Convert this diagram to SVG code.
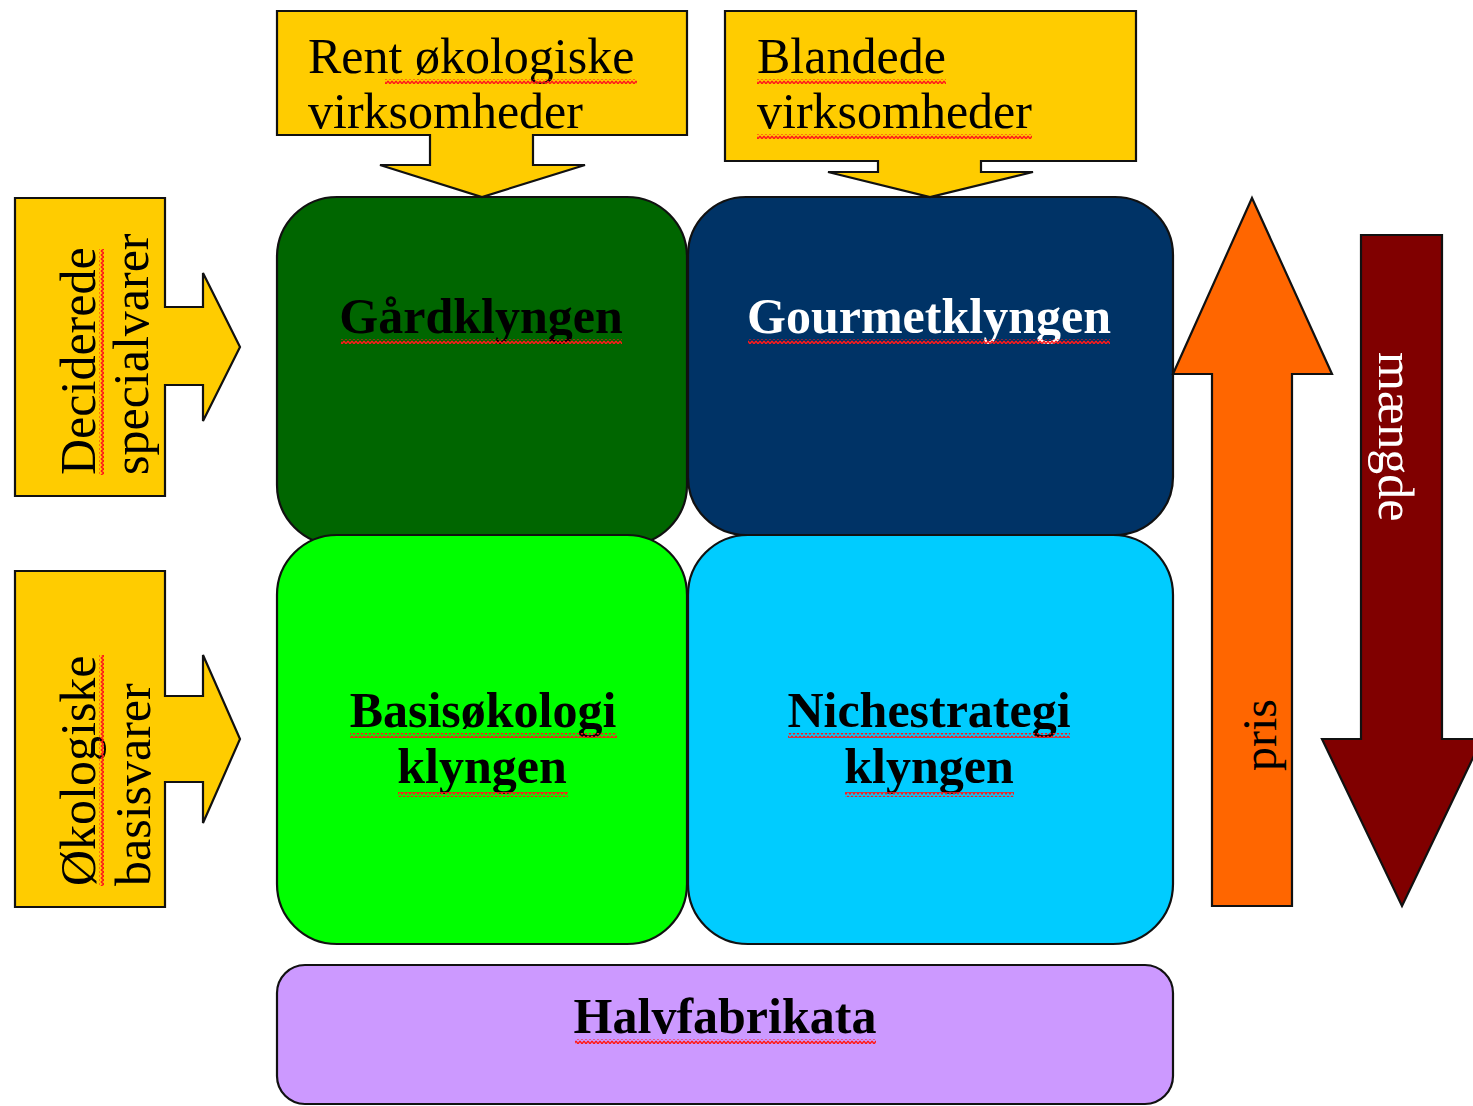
<svg xmlns="http://www.w3.org/2000/svg" width="1473" height="1106" viewBox="0 0 1473 1106">
<defs>
<pattern id="wavy" width="4" height="5" patternUnits="userSpaceOnUse">
<path d="M0,1 L2,4 L4,1" fill="none" stroke="#ff1a1a" stroke-width="1.4"/>
</pattern>
<style>
.sh{stroke:#111;stroke-width:2.2;stroke-linejoin:miter}
.cal{fill:#ffcc00}
.t{font-family:"Liberation Serif","Times New Roman",serif;font-size:50px;fill:#000}
.b{font-weight:bold;text-anchor:middle}
.w{fill:#fff}
.u{fill:url(#wavy)}
</style>
</defs>
<rect width="1473" height="1106" fill="#fff"/>

<g id="gaardklyngen">
<rect class="sh" x="277" y="197" width="410" height="348" rx="60" fill="#006600"/>
<text class="t b" x="481" y="333">Gårdklyngen</text>
<rect class="u" x="341" y="339" width="281" height="5"/>
</g>
<g id="gourmetklyngen">
<rect class="sh" x="688" y="197" width="485" height="338" rx="58" fill="#003366"/>
<text class="t b w" x="929" y="333">Gourmetklyngen</text>
<rect class="u" x="748" y="339" width="362" height="5"/>
</g>
<g id="basisoekologi">
<rect class="sh" x="277" y="535" width="410" height="409" rx="60" fill="#00ff00"/>
<text class="t b" x="483" y="727">Basisøkologi</text>
<rect class="u" x="350" y="733" width="267" height="5"/>
<text class="t b" x="482" y="783">klyngen</text>
<rect class="u" x="398" y="792" width="170" height="5"/>
</g>
<g id="nichestrategi">
<rect class="sh" x="688" y="535" width="485" height="409" rx="60" fill="#00ccff"/>
<text class="t b" x="929" y="727">Nichestrategi</text>
<rect class="u" x="788" y="733" width="282" height="5"/>
<text class="t b" x="929" y="783">klyngen</text>
<rect class="u" x="845" y="792" width="169" height="5"/>
</g>
<g id="halvfabrikata">
<rect class="sh" x="277" y="965" width="896" height="139" rx="28" fill="#cc99ff"/>
<text class="t b" x="725" y="1033">Halvfabrikata</text>
<rect class="u" x="575" y="1039" width="301" height="5"/>
</g>

<g id="rent-oekologiske">
<path class="sh cal" d="M277,11 H687 V135 H533 V165 H585 L482,197 L380,165 H430 V135 H277 Z"/>
<text class="t" x="308" y="73">Rent økologiske</text>
<rect class="u" x="385" y="79" width="252" height="5"/>
<text class="t" x="308" y="128">virksomheder</text>
</g>
<g id="blandede">
<path class="sh cal" d="M725,11 H1136 V161 H981 V172 H1033 L930,197 L828,172 H878 V161 H725 Z"/>
<text class="t" x="757" y="73">Blandede</text>
<rect class="u" x="757" y="79" width="189" height="5"/>
<text class="t" x="757" y="128">virksomheder</text>
<rect class="u" x="757" y="134" width="275" height="5"/>
</g>

<g id="deciderede">
<path class="sh cal" d="M15,198 H165 V307 H203 V273 L240,347 L203,421 V385 H165 V496 H15 Z"/>
<g transform="translate(95,475) rotate(-90)">
<text class="t" x="0" y="0">Deciderede</text>
<rect class="u" x="0" y="4" width="226" height="5"/>
</g>
<text class="t" transform="translate(148,475) rotate(-90)" x="0" y="0">specialvarer</text>
</g>
<g id="oekologiske-basisvarer">
<path class="sh cal" d="M15,571 H165 V696 H203 V655 L240,739 L203,823 V782 H165 V907 H15 Z"/>
<g transform="translate(95,886) rotate(-90)">
<text class="t" x="0" y="0">Økologiske</text>
<rect class="u" x="0" y="4" width="231" height="5"/>
</g>
<text class="t" transform="translate(150,886) rotate(-90)" x="0" y="0">basisvarer</text>
</g>

<g id="pris">
<path class="sh" fill="#ff6600" d="M1252,198 L1332,374 H1292 V906 H1212 V374 H1173 Z"/>
<text class="t" style="font-size:48px" transform="translate(1276,771) rotate(-90)" x="0" y="0">pris</text>
</g>
<g id="maengde">
<path class="sh" fill="#800000" d="M1361,235 H1442 V739 H1482 L1402,906 L1322,739 H1361 Z"/>
<text class="t w" transform="translate(1379,352) rotate(90)" x="0" y="0">mængde</text>
</g>
</svg>
